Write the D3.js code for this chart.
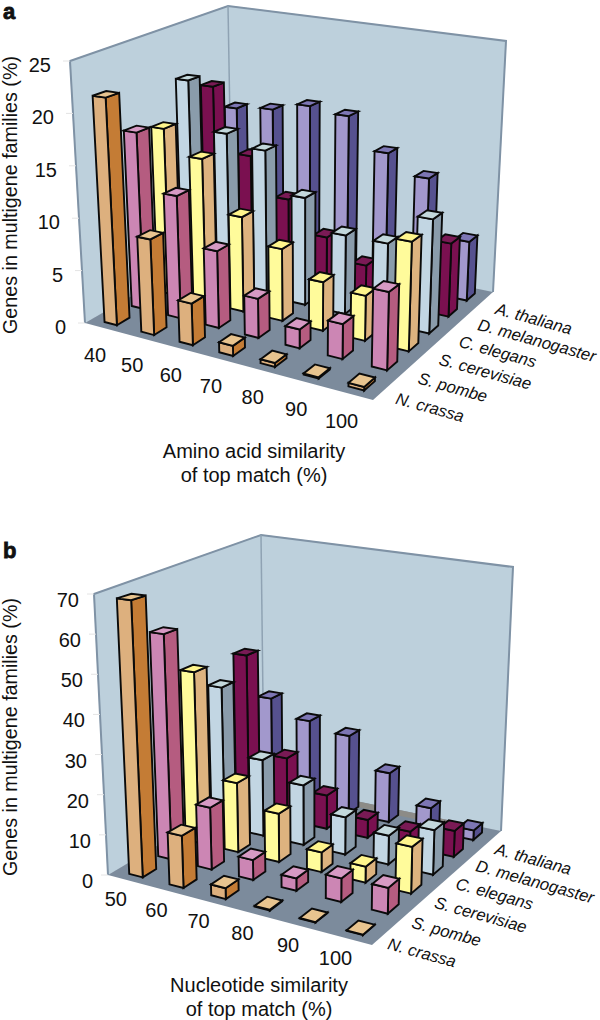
<!DOCTYPE html>
<html><head><meta charset="utf-8">
<script src="https://cdn.jsdelivr.net/npm/d3@7"></script>
<style>html,body{margin:0;padding:0;background:#fff}svg{display:block}text{font-family:"Liberation Sans",Arial,sans-serif;fill:#111}</style>
</head><body><svg id="c" width="600" height="1020"></svg>
<script>
const species = ["N. crassa","S. pombe","S. cerevisiae","C. elegans","D. melanogaster","A. thaliana"];
// panel a
const aminoBins = [40,50,60,70,80,90,100];
const aCrassa  = [21.6,8.9,3.8,0.9,0.35,0.1,0.3];
const aPombe   = [17.2,11.7,7.2,3.6,1.7,3.1,6.8];
const aCerev   = [16.5,14.1,9.1,6.8,4.5,4.1,9.8];
const aElegans = [20.4,15.5,14.4,10.4,7.5,7.5,10.5];
const aMelano  = [18.8,12.1,8.3,5.2,3.2,3,6.9];
const aThal    = [15.5,15.9,16.8,16.3,13.1,11.2,5.7];
const aTicks   = [0,5,10,15,20,25];
// panel b
const nucBins  = [50,60,70,80,90,100];
const bCrassa  = [68.7,12.7,2.6,0.2,0.1,0.1];
const bPombe   = [57.5,15.5,4.9,3,5.6,6];
const bCerev   = [44.7,17.8,12.2,4.9,3.9,11.2];
const bElegans = [37.5,20,15.5,9.5,7.2,11];
const bMelano  = [43.2,16.8,8.9,4.7,4,6.6];
const bThal    = [28,23.5,21.3,13.2,6,2.5];
const bTicks   = [0,10,20,30,40,50,60,70];

const faces = [
 {front:"#DDB07E",side:"#C47C35",top:"#E8C48F"},
 {front:"#CC86B4",side:"#B55C80",top:"#D79AC4"},
 {front:"#FFFB9B",side:"#DDB37F",top:"#FFF58C"},
 {front:"#C2D6E3",side:"#8A9CAB",top:"#C3D8DC"},
 {front:"#7A1050",side:"#7A1050",top:"#7A1A55"},
 {front:"#A298CC",side:"#56518F",top:"#7D76B4"}];

const svg = d3.select("#c");

function panel(o){
  const g = svg.append("g");
  const [F,R,B,C] = o.floor;
  const sx=F[0]-R[0]+B[0]-C[0], sy=F[1]-R[1]+B[1]-C[1];
  const dx1=R[0]-B[0], dx2=C[0]-B[0], dy1=R[1]-B[1], dy2=C[1]-B[1];
  const det=dx1*dy2-dx2*dy1;
  const pg=(sx*dy2-dx2*sy)/det, ph=(dx1*sy-sx*dy1)/det;
  const a=R[0]-F[0]+pg*R[0], b=C[0]-F[0]+ph*C[0], d=R[1]-F[1]+pg*R[1], e=C[1]-F[1]+ph*C[1];
  const uS=d3.scaleBand().domain(o.bins).range([0,1]).paddingInner(0).paddingOuter(0);
  const vS=d3.scaleBand().domain(species).range([0,1]);
  const hS=d3.scaleLinear().domain([0,o.max]).range([0,F[1]-o.topLeft[1]]);
  function P(u,v,val){
    const w=pg*u+ph*v+1;
    const x=(a*u+b*v+F[0])/w, y=(d*u+e*v+F[1])/w;
    const h=hS(val||0)/w;
    const k=h/(o.vp[1]-y);
    return [x+(x-o.vp[0])*k, y+(y-o.vp[1])*k];
  }
  const line=d3.line().curve(d3.curveLinearClosed);
  // walls and floor
  g.append("path").attr("d",line([o.topLeft,o.topBack,C,F])).attr("fill","#BDD0DC").attr("stroke","#BDD0DC");
  g.append("path").attr("d",line([o.topBack,o.topRight,B,C])).attr("fill","#BDD0DC").attr("stroke","#BDD0DC");
  g.append("path").attr("d",line([F,R,B,C])).attr("fill","#7C8B9C");
  g.append("path").attr("d",line([P(0,0.95,0),P(0.92,0.95,0),P(0.92,1,0),P(0,1,0)])).attr("fill","#8C8B87");
  g.append("path").attr("d",d3.line()([F,o.topLeft,o.topBack,o.topRight,B])).attr("fill","none").attr("stroke","#7F92A5").attr("stroke-width",2);
  g.append("path").attr("d",d3.line()([o.topBack,C])).attr("fill","none").attr("stroke","#8FA2B3").attr("stroke-width",1.5);
  // axis ticks, labels
  const tickCol="#e4e4e4";
  o.ticks.forEach(t=>{
    const f=t/o.max, p=[F[0]+(o.topLeft[0]-F[0])*f, F[1]+(o.topLeft[1]-F[1])*f];
    g.append("line").attr("x1",p[0]-7).attr("x2",p[0]).attr("y1",p[1]).attr("y2",p[1]).attr("stroke",tickCol);
    g.append("text").attr("x",p[0]-o.tickDx).attr("y",p[1]+o.tickDy).attr("text-anchor","end").attr("font-size",20).text(t);
  });
  o.bins.forEach(c=>{
    const u=uS(c)+uS.bandwidth()/2, p=P(u,0,0);
    g.append("text").attr("x",p[0]+o.xLab[0]).attr("y",p[1]+o.xLab[1]).attr("text-anchor","middle").attr("font-size",20).text(c);
  });
  species.forEach(s=>{
    const v=vS(s)+vS.bandwidth()/2, p=P(1,v,0), lx=p[0]+o.sLab[0], ly=p[1]+o.sLab[1];
    g.append("text").attr("transform",`translate(${lx},${ly}) rotate(15.5)`).attr("font-size",o.sSize).attr("font-style","italic").text(s);
  });
  // bars back to front
  const fu=[0.34,0.68], fv=[0.26,0.72];
  const rows=o.series.map((vals,j)=>({vals,j})).reverse();
  rows.forEach(({vals,j})=>{
    const col=faces[j], v0=vS(species[j])+vS.bandwidth()*fv[0], v1=vS(species[j])+vS.bandwidth()*fv[1];
    vals.forEach((val,i)=>{
      const u0=uS(o.bins[i])+uS.bandwidth()*fu[0], u1=uS(o.bins[i])+uS.bandwidth()*fu[1];
      const a0=P(u0,v0,0),a1=P(u1,v0,0),a2=P(u1,v1,0),t0=P(u0,v0,val),t1=P(u1,v0,val),t2=P(u1,v1,val),t3=P(u0,v1,val);
      const mk=(pts,fill)=>g.append("path").attr("d",line(pts)).attr("fill",fill).attr("stroke","#0a0a0a").attr("stroke-width",1.9).attr("stroke-linejoin","miter");
      mk([a1,a2,t2,t1],col.side);
      mk([a0,a1,t1,t0],col.front);
      mk([t0,t1,t2,t3],col.top);
    });
  });
  // titles
  g.append("text").attr("x",o.panelXY[0]).attr("y",o.panelXY[1]).attr("font-size",22).attr("font-weight","bold").attr("stroke","#111").attr("stroke-width",0.8).text(o.panel);
  g.append("text").attr("transform",`translate(17,${o.yTitleY}) rotate(-90)`).attr("text-anchor","middle").attr("font-size",19.7).text("Genes in multigene families (%)");
  o.xTitle.forEach((t,i)=>g.append("text").attr("x",o.xTitleX).attr("y",o.xTitleY+i*24).attr("text-anchor","middle").attr("font-size",20).text(t));
}

panel({panel:"a",panelXY:[3,19],bins:aminoBins,series:[aCrassa,aPombe,aCerev,aElegans,aMelano,aThal],ticks:aTicks,max:25,
  floor:[[85,323],[373,400],[493,292],[232,238]],topLeft:[70,61],topBack:[228,6],topRight:[506,41],vp:[304,4100],
  tickDx:19,tickDy:11,xLab:[-8,34],sLab:[10,14],sSize:16.6,
  xTitle:["Amino acid similarity","of top match (%)"],xTitleX:254,xTitleY:458,yTitleY:195});
panel({panel:"b",panelXY:[3,558],bins:nucBins,series:[bCrassa,bPombe,bCerev,bElegans,bMelano,bThal],ticks:bTicks,max:70,
  floor:[[108,875],[372,945],[501,831],[264,782]],topLeft:[94,594],topBack:[261,535],topRight:[513,567],vp:[315,5000],
  tickDx:15,tickDy:13,xLab:[-12,26],sLab:[2,15],sSize:16.6,
  xTitle:["Nucleotide similarity","of top match (%)"],xTitleX:259,xTitleY:992,yTitleY:737});
</script></body></html>
